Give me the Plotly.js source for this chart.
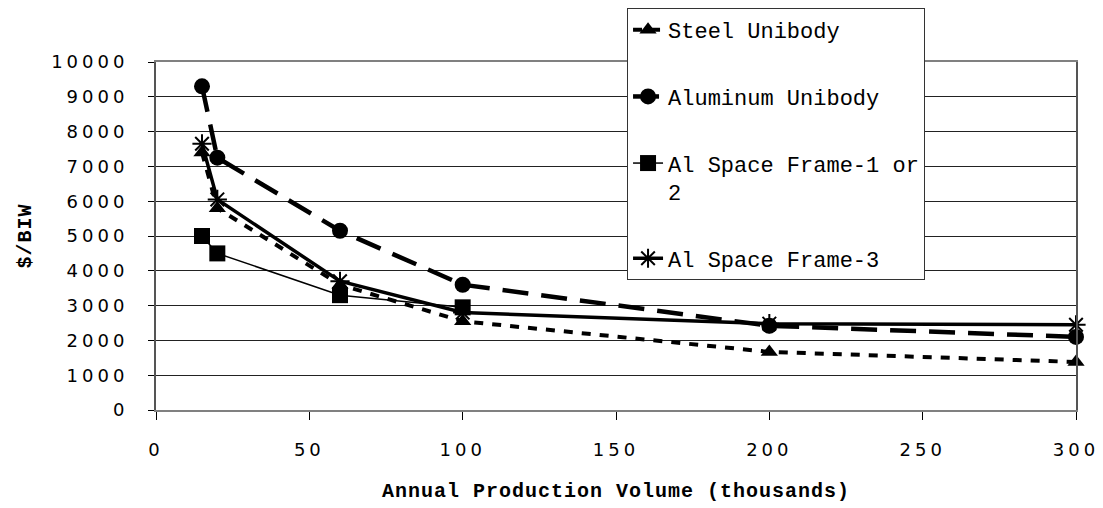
<!DOCTYPE html>
<html>
<head>
<meta charset="utf-8">
<script src="https://cdn.plot.ly/plotly-3.0.1.min.js"></script>
<style>
  html, body { margin: 0; padding: 0; background: #fff; }
  #chart { width: 1103px; height: 508px; }
  .xtick text, .ytick text { letter-spacing: 4px; }
  .g-xtitle text, .g-ytitle text { letter-spacing: 1px; }
</style>
</head>
<body>
<div id="chart"></div>
<script>
const volumes = [15, 20, 60, 100, 200, 300];
const steelUnibody = [7400, 5800, 3600, 2550, 1670, 1380];
const aluminumUnibody = [9300, 7250, 5150, 3600, 2420, 2100];
const spaceFrame12 = [5000, 4500, 3300, 2950, null, null];
const spaceFrame3 = [7650, 6050, 3700, 2800, 2480, 2450];
const seriesNames = ["Steel Unibody", "Aluminum Unibody", "Al Space Frame-1 or<br>2", "Al Space Frame-3"];

const traces = [
  { x: volumes, y: steelUnibody, name: seriesNames[0], legendgroup: "a", mode: "lines+markers", cliponaxis: false,
    line: { color: "#000", width: 4, dash: "9px,9px" },
    marker: { symbol: "triangle-up", size: 15, color: "#000" } },
  { x: volumes, y: aluminumUnibody, name: seriesNames[1], legendgroup: "b", mode: "lines+markers", cliponaxis: false,
    line: { color: "#000", width: 4.5, dash: "26px,13px" },
    marker: { symbol: "circle", size: 16, color: "#000" } },
  { x: volumes, y: spaceFrame12, name: seriesNames[2], legendgroup: "c", mode: "lines+markers", cliponaxis: false,
    line: { color: "#000", width: 1.5 },
    marker: { symbol: "square", size: 16, color: "#000" } },
  { x: volumes, y: spaceFrame3, name: seriesNames[3], legendgroup: "d", mode: "lines+markers", cliponaxis: false,
    line: { color: "#000", width: 3.5 },
    marker: { symbol: "asterisk-open", size: 16, color: "#000", line: { color: "#000", width: 2 } } },
  { x: [], y: [], name: " ", legendgroup: "e", mode: "lines", hoverinfo: "skip",
    line: { color: "rgba(0,0,0,0)", width: 0 } }
];

const layout = {
  width: 1103, height: 508,
  margin: { l: 156, r: 27, t: 62, b: 98, autoexpand: false },
  paper_bgcolor: "#fff", plot_bgcolor: "#fff",
  showlegend: true,
  legend: {
    x: 0.512, y: 1.155, xanchor: "left", yanchor: "top",
    bgcolor: "#fff", bordercolor: "#333", borderwidth: 1,
    font: { family: "Liberation Mono, Courier New, monospace", size: 22, color: "#000" },
    traceorder: "grouped", tracegroupgap: 35, valign: "top", maxheight: 1
  },
  xaxis: {
    range: [0, 300], tickvals: [0, 50, 100, 150, 200, 250, 300],
    ticks: "outside", ticklen: 8, tickcolor: "#000", tickwidth: 1,
    showline: true, linecolor: "#808080", linewidth: 2, mirror: true,
    showgrid: false, zeroline: false,
    tickfont: { family: "DejaVu Sans", size: 18, color: "#000" },
    ticklabelstandoff: 14,
    title: { text: "Annual Production Volume (thousands)", standoff: 24,
      font: { family: "Liberation Mono, Courier New, monospace", size: 20, color: "#000", weight: "bold" } }
  },
  yaxis: {
    range: [0, 10000], tickvals: [0,1000,2000,3000,4000,5000,6000,7000,8000,9000,10000],
    tickformat: "d",
    ticks: "outside", ticklen: 6, tickcolor: "#000", tickwidth: 1,
    showline: true, linecolor: "#555", linewidth: 2, mirror: true,
    showgrid: true, gridcolor: "#222", gridwidth: 1, zeroline: false,
    tickfont: { family: "DejaVu Sans", size: 18, color: "#000" },
    ticklabelstandoff: 16,
    title: { text: "$/BIW", standoff: 14,
      font: { family: "Liberation Mono, Courier New, monospace", size: 20, color: "#000", weight: "bold" } }
  }
};

Plotly.newPlot("chart", traces, layout, { displayModeBar: false, staticPlot: true });
</script>
</body>
</html>
